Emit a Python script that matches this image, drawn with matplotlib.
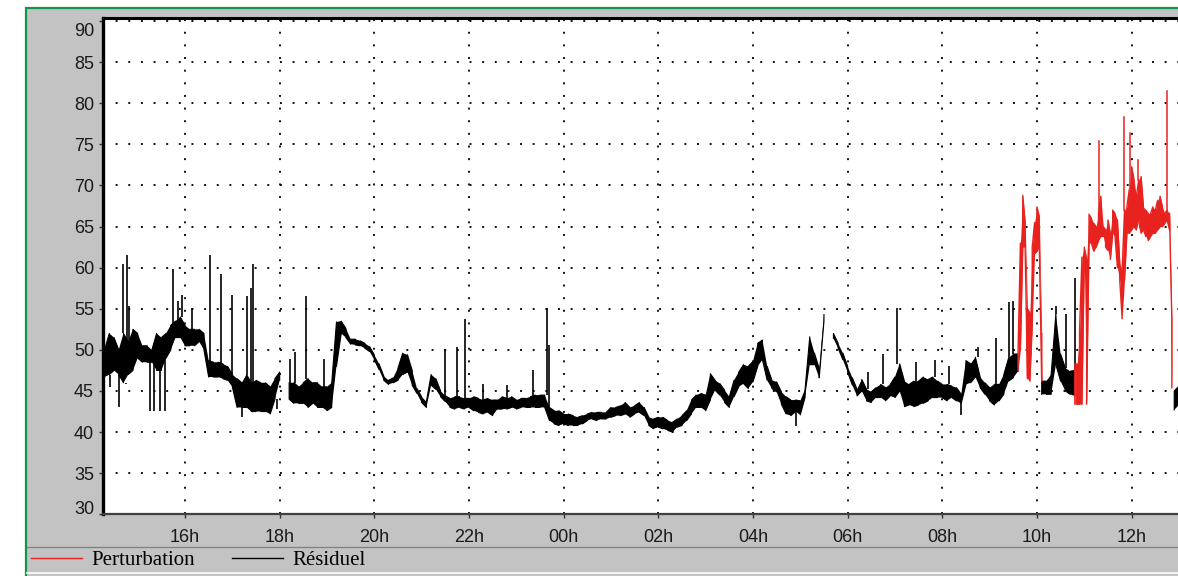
import numpy as np
import matplotlib
matplotlib.use("Agg")
import matplotlib.pyplot as plt
from matplotlib.lines import Line2D
from matplotlib.patches import Rectangle
from matplotlib.transforms import ScaledTranslation
from matplotlib.font_manager import FontProperties

nan = np.nan

# ---------------- data (time in hours, continuous: 24 = 00h of next day) ----------------
# "Résiduel": core band (lo / hi) every 6 minutes, plus isolated up / down spikes
BLACK_T0 = 14.3
BLACK_STEP = 0.1
black_lo = [
    46.7, 47.0, 47.5, 47.0, 46.0, 47.0, 47.5, 49.0, 48.5, 48.5,
    48.5, 47.5, 47.5, 49.0, 50.0, 51.5, 51.5, 50.5, 50.5, 50.5,
    51.0, 50.0, 46.7, 46.7, 46.7, 46.5, 46.3, 45.5, 43.0, 43.0,
    43.0, 42.5, 42.5, 42.5, 42.5, 42.2, 44.0, 46.3, nan, 44.0,
    43.5, 43.5, 43.5, 43.0, 43.5, 43.0, 43.0, 42.6, 43.0, 48.0,
    52.0, 51.5, 50.7, 50.6, 50.5, 50.2, 49.8, 48.8, 47.6, 46.3,
    45.8, 46.0, 46.3, 47.0, 47.3, 45.7, 44.7, 43.6, 43.0, 45.7,
    45.2, 44.3, 43.7, 43.0, 42.8, 43.0, 42.8, 43.0, 42.6, 42.4,
    42.2, 42.4, 42.0, 42.8, 42.8, 42.8, 43.0, 42.8, 43.0, 43.0,
    43.0, 43.0, 43.0, 43.0, 41.4, 41.0, 40.8, 41.0, 40.8, 40.8,
    40.8, 41.0, 41.4, 41.6, 41.4, 41.6, 41.6, 41.8, 42.0, 42.0,
    42.2, 41.8, 42.2, 42.4, 42.0, 40.8, 40.4, 40.6, 40.4, 40.2,
    40.0, 40.6, 40.8, 41.4, 42.2, 43.0, 43.0, 42.6, 43.9, 45.1,
    44.5, 43.6, 43.0, 44.3, 45.5, 45.9, 45.3, 46.1, 48.0, 48.8,
    46.3, 45.3, 44.9, 43.4, 42.2, 42.0, 42.5, 42.1, 44.2, 48.2,
    48.2, 46.6, 53.5, nan, 51.4, 50.2, 48.8, 47.3, 45.7, 44.4,
    45.0, 43.8, 43.6, 44.2, 44.2, 43.8, 44.4, 44.2, 45.0, 43.1,
    43.3, 43.1, 43.3, 43.5, 43.8, 44.2, 44.2, 44.2, 43.8, 44.2,
    43.8, 43.5, 45.8, 46.0, 46.7, 45.4, 44.6, 43.8, 43.3, 43.8,
    44.6, 46.2, 46.6, 47.4, nan, nan, nan, nan, 44.6, 44.6,
    44.6, 48.2, 46.2, 45.0, 44.6, 44.4, nan, nan, nan, nan,
    nan, nan, nan, nan, nan, nan, nan, nan, nan, nan,
    nan, nan, nan, nan, nan, nan, 42.7, 43.3,
]
black_hi = [
    50.0, 52.0, 51.5, 50.0, 52.0, 51.0, 52.5, 52.0, 50.5, 50.5,
    50.0, 52.0, 51.5, 52.0, 53.0, 53.5, 54.0, 53.0, 52.5, 52.5,
    52.5, 52.0, 48.7, 48.5, 48.5, 48.3, 48.0, 47.0, 46.5, 46.0,
    47.0, 46.0, 46.3, 46.0, 46.0, 45.5, 46.5, 47.3, nan, 46.0,
    46.0, 45.5, 46.0, 46.5, 46.0, 46.0, 45.5, 45.5, 46.0, 53.4,
    53.5, 52.6, 51.3, 51.3, 51.1, 50.8, 50.4, 49.4, 48.3, 46.8,
    46.3, 46.6, 47.8, 49.6, 49.4, 47.5, 45.3, 44.3, 43.7, 47.0,
    46.5, 45.0, 44.4, 44.1, 44.3, 44.3, 44.1, 44.1, 44.3, 44.1,
    43.9, 44.1, 43.9, 43.9, 44.3, 44.1, 44.3, 43.9, 44.1, 44.1,
    44.3, 44.5, 44.5, 44.5, 43.0, 42.6, 42.6, 42.2, 42.2, 42.0,
    41.8, 42.0, 42.2, 42.4, 42.4, 42.4, 42.4, 43.0, 43.0, 43.2,
    43.6, 43.0, 43.2, 43.6, 43.0, 41.8, 41.6, 41.8, 41.8, 41.4,
    41.2, 41.6, 42.0, 42.6, 43.9, 44.5, 44.7, 44.5, 47.1, 46.3,
    45.9, 45.1, 44.3, 46.3, 47.3, 48.2, 48.0, 48.6, 50.8, 51.2,
    48.0, 46.3, 46.1, 44.9, 44.3, 43.9, 43.9, 43.8, 45.2, 51.6,
    49.6, 47.7, 54.3, nan, 52.0, 50.8, 49.6, 48.0, 46.6, 45.2,
    46.4, 45.2, 44.9, 45.4, 45.8, 45.4, 45.8, 46.7, 48.3, 46.2,
    45.8, 46.2, 46.2, 46.7, 46.4, 46.7, 46.2, 45.8, 45.8, 45.6,
    45.4, 44.6, 48.7, 48.3, 49.1, 46.7, 46.0, 45.4, 45.8, 45.8,
    47.0, 49.0, 49.5, 49.5, nan, nan, nan, nan, 46.2, 46.2,
    47.0, 54.4, 49.5, 47.8, 47.4, 47.5, nan, nan, nan, nan,
    nan, nan, nan, nan, nan, nan, nan, nan, nan, nan,
    nan, nan, nan, nan, nan, nan, 45.0, 45.6,
]
black_spike_t = [14.70, 14.77, 14.81, 15.75, 15.85, 15.93, 16.14, 16.53, 16.77, 17.00,
                 17.31, 17.40, 17.44, 18.21, 18.32, 18.56, 18.93, 21.50, 21.75, 21.91,
                 22.30, 22.81, 23.35, 23.65, 23.69, 30.42, 30.75, 31.05, 31.44, 31.84,
                 32.14, 32.75, 33.14, 33.41, 33.50, 34.40, 34.62, 34.81]
black_spike_v = [60.4, 61.5, 55.3, 59.8, 55.9, 56.7, 55.1, 61.5, 59.2, 56.7,
                 56.5, 57.5, 60.4, 48.9, 49.8, 56.5, 48.9, 50.1, 50.4, 53.7,
                 45.9, 45.7, 47.5, 55.1, 50.6, 47.3, 49.5, 55.1, 48.5, 48.8,
                 48.1, 50.4, 51.4, 55.8, 56.0, 55.4, 54.4, 58.7]
black_dip_t = [14.41, 14.60, 14.75, 15.27, 15.34, 15.48, 15.58, 17.21, 17.95, 28.90, 32.40]
black_dip_v = [45.5, 43.0, 45.9, 42.6, 42.6, 42.6, 42.6, 41.8, 42.8, 40.7, 42.1]

# "Perturbation": band every 3 minutes, two stretches, plus spikes
RED_STEP = 0.05
red1_t0 = 33.60
red1_lo = [47.5, 50.0, 62.5, 62.5, 46.5, 46.2, 53.0, 61.7, 62.0, 62.5, 46.2]
red1_hi = [49.5, 63.0, 68.8, 65.5, 55.0, 54.5, 62.5, 65.5, 67.4, 66.2, 52.0]
red2_t0 = 34.80
red2_lo = [43.4, 43.4, 43.4, 43.4, 60.9, 43.4, 63.0, 63.0, 62.0, 62.5,
           63.3, 63.8, 63.8, 62.5, 62.1, 61.0, 64.2, 63.8, 60.0, 58.4,
           53.8, 58.5, 64.2, 64.2, 64.6, 65.0, 64.6, 65.8, 64.2, 64.6,
           63.8, 63.3, 63.8, 64.2, 64.2, 64.6, 65.0, 65.0, 65.4, 65.8,
           64.6, 45.4]
red2_hi = [48.3, 48.3, 52.3, 61.3, 62.5, 61.0, 66.5, 66.0, 65.4, 65.0,
           66.6, 68.7, 65.0, 64.6, 65.8, 64.2, 67.0, 66.6, 65.8, 60.5,
           59.7, 67.0, 67.4, 69.5, 72.3, 70.7, 68.7, 70.7, 71.1, 67.4,
           67.0, 66.6, 66.6, 67.4, 67.0, 68.2, 68.7, 67.4, 66.6, 67.0,
           66.6, 53.6]
red_spike_t = [35.305, 35.84, 35.97, 36.13, 36.745]
red_spike_v = [75.4, 78.3, 76.4, 73.1, 81.5]

x_ticks = [16, 18, 20, 22, 24, 26, 28, 30, 32, 34, 36]
x_tick_labels = ["16h", "18h", "20h", "22h", "00h", "02h", "04h", "06h", "08h", "10h", "12h"]
y_ticks = [30, 35, 40, 45, 50, 55, 60, 65, 70, 75, 80, 85, 90]
legend_labels = ["Perturbation", "Résiduel"]

RED = "#e8231f"
BLACK = "#000000"
GRAY = "#c3c3c3"
GREEN = "#12964c"

W, H = 1178, 576


def zigzag(t, lo, hi):
    xs, ys = [], []
    for i in range(len(lo)):
        a, b = (lo[i], hi[i]) if i % 2 == 0 else (hi[i], lo[i])
        xs += [t[i], t[i]]
        ys += [a, b]
    return np.array(xs), np.array(ys)


def nearest(t0, step, arr, ts):
    arr = np.asarray(arr, float)
    idx = int(round((ts - t0) / step))
    idx = min(max(idx, 0), len(arr) - 1)
    return arr[idx]


def draw_band(ax, t0, step, lo, hi, color, lw, zorder):
    lo = np.asarray(lo, float)
    hi = np.asarray(hi, float)
    t = t0 + step * np.arange(len(lo))
    ax.fill_between(t, lo, hi, color=color, lw=0, zorder=zorder)
    zx, zy = zigzag(t, lo, hi)
    ax.plot(zx, zy, color=color, lw=lw, zorder=zorder)


fig = plt.figure(figsize=(W / 100, H / 100), dpi=100, facecolor="white")

# outer gray panel with green frame
fig.add_artist(Rectangle((25.5 / W, -0.05), 1.0, 1 - 7.5 / H + 0.05, transform=fig.transFigure,
                         facecolor=GRAY, edgecolor=GREEN, lw=1.6, zorder=-5))
# legend strip separators
fig.add_artist(Line2D([27 / W, 1], [1 - 546.5 / H] * 2, transform=fig.transFigure,
                      color="#808080", lw=0.9, zorder=1))
fig.add_artist(Line2D([27 / W, 1], [1 - 572.5 / H] * 2, transform=fig.transFigure,
                      color="#ffffff", lw=1.2, zorder=1))

ax = fig.add_axes([103 / W, (576 - 514.3) / H, (W - 103) / W, (514.3 - 18.3) / H])
ax.set_facecolor("white")
ax.set_xlim(14.267, 36.98)
ax.set_ylim(30, 90.34)

# --- Résiduel (black)
draw_band(ax, BLACK_T0, BLACK_STEP, black_lo, black_hi, BLACK, 0.8, 3)
for ts, v in zip(black_spike_t, black_spike_v):
    base = nearest(BLACK_T0, BLACK_STEP, black_hi, ts)
    if not np.isnan(base):
        ax.plot([ts, ts], [base, v], color=BLACK, lw=1.2, solid_capstyle="butt", zorder=3)
for ts, v in zip(black_dip_t, black_dip_v):
    base = nearest(BLACK_T0, BLACK_STEP, black_lo, ts)
    if not np.isnan(base):
        ax.plot([ts, ts], [base, v], color=BLACK, lw=1.2, solid_capstyle="butt", zorder=3)

# --- Perturbation (red)
for t0, lo, hi in [(red1_t0, red1_lo, red1_hi), (red2_t0, red2_lo, red2_hi)]:
    draw_band(ax, t0, RED_STEP, lo, hi, RED, 1.0, 4)
for ts, v in zip(red_spike_t, red_spike_v):
    base = nearest(red2_t0, RED_STEP, red2_hi, ts)
    ax.plot([ts, ts], [base, v], color=RED, lw=1.1, zorder=4)

# grid / ticks
ax.set_xticks(x_ticks)
ax.set_xticklabels(x_tick_labels)
ax.set_yticks(y_ticks)
ax.set_yticklabels([str(v) for v in y_ticks])
ax.grid(True, color="#111111", linestyle=(0, (1, 5.5)), lw=1.4)
ax.set_axisbelow(True)

ax.spines["right"].set_visible(False)
ax.spines["left"].set_linewidth(2.4)
ax.spines["top"].set_linewidth(2.2)
ax.spines["left"].set_color("black")
ax.spines["top"].set_color("black")
ax.spines["bottom"].set_linewidth(1.6)
ax.spines["bottom"].set_color("#404040")

tick_font = FontProperties(family="Liberation Sans", size=13)
ax.tick_params(axis="x", length=3, width=1, color="#333333", pad=7.5, labelcolor="#1a1a1a")
ax.tick_params(axis="y", length=3, width=1, color="#333333", pad=3.5, labelcolor="#1a1a1a")
for lab in ax.get_xticklabels() + ax.get_yticklabels():
    lab.set_fontproperties(tick_font)
for lab in ax.get_yticklabels():
    if lab.get_text() == "90":
        lab.set_transform(lab.get_transform() + ScaledTranslation(0, -8 / 100, fig.dpi_scale_trans))
    elif lab.get_text() == "30":
        lab.set_transform(lab.get_transform() + ScaledTranslation(0, 7 / 100, fig.dpi_scale_trans))

# legend
handles = [Line2D([], [], color=RED, lw=1.0), Line2D([], [], color=BLACK, lw=1.0)]
fig.legend(handles, legend_labels, loc="center left", bbox_to_anchor=(31 / W, 1 - 560 / H),
           ncol=2, frameon=False, prop=FontProperties(family="Liberation Serif", size=15),
           handlelength=2.45, handletextpad=0.47, columnspacing=1.73, borderpad=0,
           borderaxespad=0)

fig.savefig("out.png", dpi=100, facecolor="white")
